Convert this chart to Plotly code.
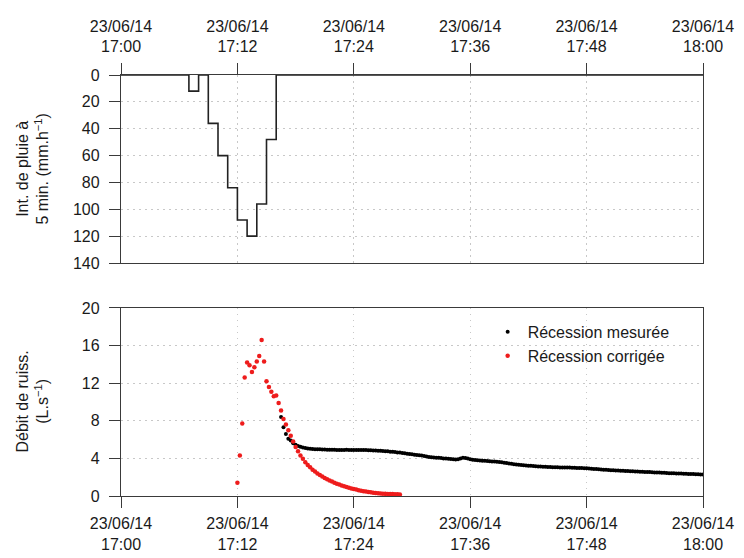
import plotly.graph_objects as go
import pandas as pd

DAY = "2014-06-23 "

# --- Rainfall intensity (5-min, mm/h), step function, value holds until next time
rain_times = ["17:00", "17:07", "17:08", "17:09", "17:10", "17:11", "17:12",
              "17:13", "17:14", "17:15", "17:16", "18:00"]
rain_values = [0, 12, 0, 36, 60, 84, 108, 120, 96, 48, 0, 0]

# --- Runoff discharge (L/s), sampled every 15 s
corr_start = "17:12:00"
corr_values = [1.4, 4.3, 7.7, 12.6, 14.2, 13.9, 13.2, 13.7, 14.3, 14.9, 16.6, 14.3,
               12.2, 11.6, 11.1, 10.6, 10.7, 9.9, 9.1, 8.2, 7.6, 7.0, 6.4, 5.8,
               5.2, 4.75, 4.3, 3.95, 3.6, 3.3, 3.05, 2.8, 2.6, 2.4, 2.23, 2.07,
               1.92, 1.78, 1.65, 1.53, 1.42, 1.31, 1.21, 1.12, 1.03, 0.95, 0.88, 0.81,
               0.75, 0.69, 0.62, 0.56, 0.51, 0.47, 0.43, 0.39, 0.35, 0.32, 0.29, 0.27,
               0.25, 0.23, 0.22, 0.21, 0.20, 0.19, 0.18, 0.17]

meas_start = "17:16:30"
meas_values = [8.4, 7.3,
               6.6, 6.1, 5.9, 5.6,
               5.45, 5.33, 5.25, 5.15,
               5.1, 5.06, 5.03, 5.0,
               4.98, 4.97, 4.96, 4.95,
               4.94, 4.93, 4.92, 4.92,
               4.91, 4.9, 4.9, 4.9,
               4.9, 4.91, 4.9, 4.9,
               4.9, 4.89, 4.9, 4.89,
               4.88, 4.89, 4.87, 4.86,
               4.85, 4.84, 4.82, 4.8,
               4.78, 4.76, 4.75, 4.72,
               4.7, 4.67, 4.64, 4.62,
               4.58, 4.55, 4.5, 4.48,
               4.45, 4.4, 4.36, 4.33,
               4.3, 4.25, 4.2, 4.15,
               4.12, 4.1, 4.08, 4.06,
               4.04, 4.0, 3.98, 3.95,
               3.93, 3.9, 3.88, 3.9,
               3.98, 4.08, 4.05, 3.98,
               3.9, 3.85, 3.82, 3.8,
               3.78, 3.76, 3.74, 3.72,
               3.7, 3.68, 3.67, 3.65,
               3.62, 3.58, 3.54, 3.5,
               3.46, 3.42, 3.38, 3.35,
               3.33, 3.3, 3.28, 3.25,
               3.23, 3.21, 3.19, 3.17,
               3.15, 3.13, 3.12, 3.1,
               3.09, 3.08, 3.07, 3.06,
               3.05, 3.04, 3.04, 3.03,
               3.02, 3.02, 3.01, 3.0,
               2.99, 2.98, 2.97, 2.96,
               2.95, 2.93, 2.91, 2.88,
               2.86, 2.84, 2.82, 2.8,
               2.78, 2.76, 2.75, 2.73,
               2.72, 2.7, 2.69, 2.68,
               2.66, 2.65, 2.64, 2.62,
               2.61, 2.6, 2.59, 2.58,
               2.56, 2.55, 2.54, 2.53,
               2.51, 2.5, 2.49, 2.48,
               2.46, 2.45, 2.43, 2.42,
               2.41, 2.4, 2.39, 2.38,
               2.37, 2.36, 2.35, 2.34,
               2.33, 2.32, 2.31, 2.3,
               2.3]

tick_times = ["17:00", "17:12", "17:24", "17:36", "17:48", "18:00"]
tick_text = ["23/06/14<br>" + t for t in tick_times]
rain_ticks = [0, 20, 40, 60, 80, 100, 120, 140]
flow_ticks = [0, 4, 8, 12, 16, 20]

rain_x = [DAY + t for t in rain_times]
corr_x = pd.date_range(DAY + corr_start, periods=len(corr_values), freq="15s")
meas_x = pd.date_range(DAY + meas_start, periods=len(meas_values), freq="15s")
tick_x = [DAY + t for t in tick_times]

FONT = "Liberation Sans, Arial, sans-serif"
AX = "#3a3a3a"
GRID = "#c8c8c8"
GDASH = "1.5px,4.5px"

fig = go.Figure()
fig.add_trace(go.Scatter(x=rain_x, y=rain_values, mode="lines", line_shape="hv",
                         line=dict(color="#222222", width=1.6), showlegend=False,
                         xaxis="x", yaxis="y"))
fig.add_trace(go.Scatter(x=meas_x, y=meas_values, mode="markers", name="Récession mesurée",
                         marker=dict(color="black", size=4, line_width=0),
                         xaxis="x2", yaxis="y2"))
fig.add_trace(go.Scatter(x=corr_x, y=corr_values, mode="markers", name="Récession corrigée",
                         marker=dict(color="#ee1c1c", size=4.5, line_width=0),
                         xaxis="x2", yaxis="y2"))

xcommon = dict(type="date", range=[DAY + "17:00", DAY + "18:00"], tickmode="array",
               tickvals=tick_x, ticktext=tick_text, ticks="outside", ticklen=11,
               tickwidth=1.3, tickcolor=AX, showline=True, linecolor=AX, linewidth=1.3,
               mirror=True, showgrid=True, gridcolor=GRID, griddash=GDASH, gridwidth=1,
               zeroline=False, automargin=False,
               tickfont=dict(size=16, color="#1a1a1a", family=FONT))
ycommon = dict(tickmode="array", ticks="outside", ticklen=11, tickwidth=1.3, tickcolor=AX,
               showline=True, linecolor=AX, linewidth=1.3, mirror=True, showgrid=True,
               gridcolor=GRID, griddash=GDASH, gridwidth=1, zeroline=False, automargin=False,
               tickfont=dict(size=16, color="#1a1a1a", family=FONT), ticklabelstandoff=6)

fig.update_layout(
    width=736, height=550,
    margin=dict(l=113, r=41, t=67, b=62, autoexpand=False),
    paper_bgcolor="white", plot_bgcolor="white",
    font=dict(family=FONT, size=16, color="#1a1a1a"),
    xaxis=dict(xcommon, anchor="y", side="top", domain=[0, 1], ticklabelstandoff=4),
    yaxis=dict(ycommon, anchor="x", domain=[0.5534, 1], range=[140, 0], tickvals=rain_ticks),
    xaxis2=dict(xcommon, anchor="y2", side="bottom", domain=[0, 1], ticklabelstandoff=2),
    yaxis2=dict(ycommon, anchor="x2", domain=[0, 0.4466], range=[0, 20], tickvals=flow_ticks),
    legend=dict(x=0.63, y=0.43, xanchor="left", yanchor="top", bgcolor="rgba(0,0,0,0)",
                font=dict(size=16, family=FONT), itemsizing="trace", tracegroupgap=0),
    showlegend=True,
    annotations=[
        dict(text="Int. de pluie à<br>5 min. (mm.h<sup>−1</sup>)", xref="paper", yref="paper",
             x=-0.152, y=0.7767, xanchor="center", yanchor="middle", textangle=-90,
             showarrow=False, font=dict(size=16, family=FONT)),
        dict(text="Débit de ruiss.<br>(L.s<sup>−1</sup>)", xref="paper", yref="paper",
             x=-0.152, y=0.2233, xanchor="center", yanchor="middle", textangle=-90,
             showarrow=False, font=dict(size=16, family=FONT)),
    ],
)

fig.write_html("out.html")
